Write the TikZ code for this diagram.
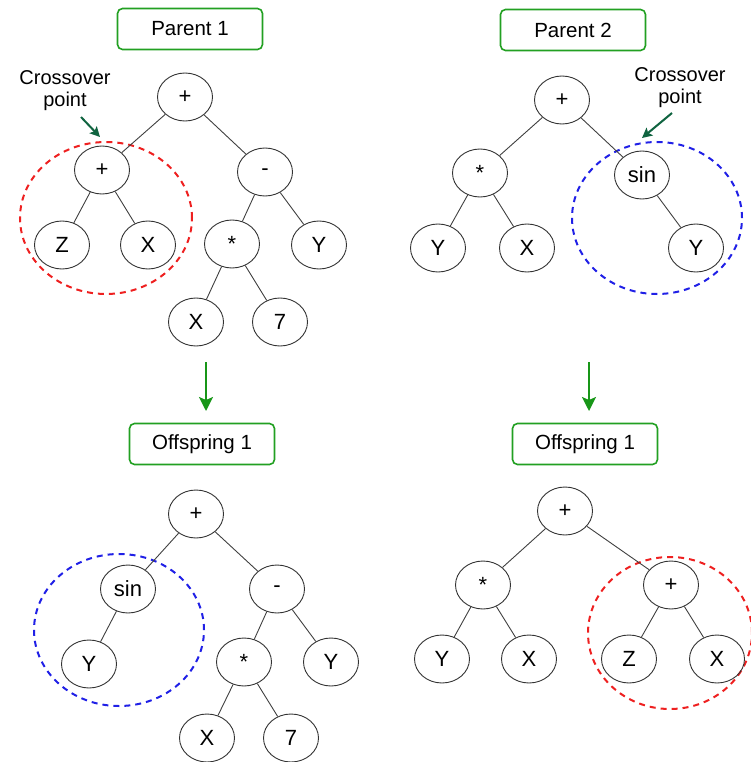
\documentclass[tikz,border=0pt]{standalone}
\usepackage{fontspec}
\setmainfont{Liberation Sans}
\usetikzlibrary{shapes.geometric,arrows.meta}
\definecolor{boxgreen}{RGB}{34,160,34}
\definecolor{flowgreen}{RGB}{24,150,24}
\definecolor{pointgreen}{RGB}{16,100,64}
\definecolor{cutred}{RGB}{238,32,32}
\definecolor{cutblue}{RGB}{32,32,230}
\begin{document}
\begin{tikzpicture}[x=1pt,y=-1pt,
  tnode/.style={ellipse,draw=black!80,line width=0.9pt,minimum width=55pt,minimum height=48pt,inner sep=0pt,font=\fontsize{22}{22}\selectfont},
  titlebox/.style={draw=boxgreen,line width=1.6pt,rounded corners=5pt,minimum width=145pt,minimum height=41pt,inner sep=0pt,font=\fontsize{20.5}{20.5}\selectfont},
  link/.style={draw=black!75,line width=0.9pt},
  cutzone/.style={ellipse,line width=2pt,dash pattern=on 6pt off 5pt,inner sep=0pt},
  flow/.style={draw=flowgreen,line width=2pt,-{Stealth[length=14pt,width=14pt,inset=3pt]}},
  pointer/.style={draw=pointgreen,line width=2pt,-{Stealth[length=10pt,width=10pt,inset=2pt]}},
  note/.style={align=center,font=\fontsize{20}{22}\selectfont}
]
\useasboundingbox (0,0) rectangle (751,762);

% ---------- Parent 1 ----------
\node[titlebox] (p1) at (190,29) {Parent 1};
\node[cutzone,draw=cutred,minimum width=172pt,minimum height=152pt] (cutA) at (106,218) {};
\node[tnode] (a0) at (185,97) {+};
\node[tnode] (a1) at (102,170) {+};
\node[tnode] (a2) at (265,172) {-};
\node[tnode] (a3) at (62,245) {Z};
\node[tnode] (a4) at (148,245) {X};
\node[tnode] (a5) at (232,244) {*};
\node[tnode] (a6) at (319,245) {Y};
\node[tnode] (a7) at (196,322) {X};
\node[tnode] (a8) at (280,322) {7};
\draw[link] (a0) -- (a1);
\draw[link] (a0) -- (a2);
\draw[link] (a1) -- (a3);
\draw[link] (a1) -- (a4);
\draw[link] (a2) -- (a5);
\draw[link] (a2) -- (a6);
\draw[link] (a5) -- (a7);
\draw[link] (a5) -- (a8);
\node[note] (noteA) at (65,91) {Crossover\\point};
\coordinate (startA) at (81,117);
\coordinate (tipA) at (100,137);
\draw[pointer] (startA) -- (tipA);

% ---------- Parent 2 ----------
\node[titlebox] (p2) at (573,30) {Parent 2};
\node[cutzone,draw=cutblue,minimum width=170pt,minimum height=152pt] (cutB) at (657,218) {};
\node[tnode] (b0) at (562,100) {+};
\node[tnode] (b1) at (480,173) {*};
\node[tnode] (b2) at (642,175) {sin};
\node[tnode] (b3) at (438,248) {Y};
\node[tnode] (b4) at (527,248) {X};
\node[tnode] (b5) at (696,248) {Y};
\draw[link] (b0) -- (b1);
\draw[link] (b0) -- (b2);
\draw[link] (b1) -- (b3);
\draw[link] (b1) -- (b4);
\draw[link] (b2) -- (b5);
\node[note] (noteB) at (680,88) {Crossover\\point};
\coordinate (startB) at (672,113);
\coordinate (tipB) at (642,138);
\draw[pointer] (startB) -- (tipB);

% ---------- arrows to the offspring ----------
\coordinate (fromL) at (206,362);
\coordinate (toL) at (206,411);
\coordinate (fromR) at (589,362);
\coordinate (toR) at (589,411);
\draw[flow] (fromL) -- (toL);
\draw[flow] (fromR) -- (toR);

% ---------- Offspring (left) ----------
\node[titlebox] (o1) at (202,444) {Offspring 1};
\node[cutzone,draw=cutblue,minimum width=170pt,minimum height=152pt] (cutC) at (119,630) {};
\node[tnode] (c0) at (196,514) {+};
\node[tnode] (c1) at (128,589) {sin};
\node[tnode] (c2) at (277,589) {-};
\node[tnode] (c3) at (89,664) {Y};
\node[tnode] (c4) at (244,662) {*};
\node[tnode] (c5) at (331,662) {Y};
\node[tnode] (c6) at (207,738) {X};
\node[tnode] (c7) at (291,738) {7};
\draw[link] (c0) -- (c1);
\draw[link] (c0) -- (c2);
\draw[link] (c1) -- (c3);
\draw[link] (c2) -- (c4);
\draw[link] (c2) -- (c5);
\draw[link] (c4) -- (c6);
\draw[link] (c4) -- (c7);

% ---------- Offspring (right) ----------
\node[titlebox] (o2) at (585,444) {Offspring 1};
\node[cutzone,draw=cutred,minimum width=164pt,minimum height=152pt] (cutD) at (670,633) {};
\node[tnode] (d0) at (565,511) {+};
\node[tnode] (d1) at (483,585) {*};
\node[tnode] (d2) at (671,585) {+};
\node[tnode] (d3) at (442,659) {Y};
\node[tnode] (d4) at (529,659) {X};
\node[tnode] (d5) at (629,659) {Z};
\node[tnode] (d6) at (717,659) {X};
\draw[link] (d0) -- (d1);
\draw[link] (d0) -- (d2);
\draw[link] (d1) -- (d3);
\draw[link] (d1) -- (d4);
\draw[link] (d2) -- (d5);
\draw[link] (d2) -- (d6);
\end{tikzpicture}
\end{document}
